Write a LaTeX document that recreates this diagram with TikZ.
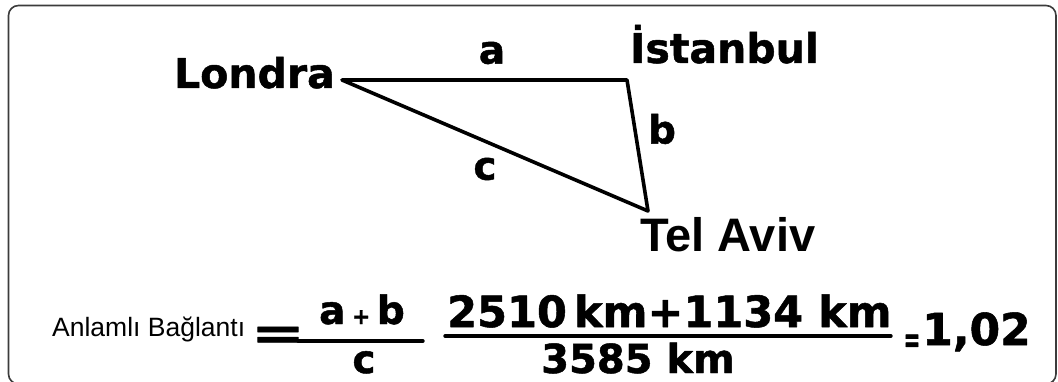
\documentclass[tikz,border=0pt]{standalone}
\usepackage{fontspec}
\setmainfont{DejaVu Sans}[BoldFeatures={FakeBold=1.2}]
\newfontfamily\arialfont{Liberation Sans}
\usetikzlibrary{positioning}
\newcommand{\Px}{1pt}
\newcommand{\Edge}{3.6pt}
\newcommand{\Bar}{3.4pt}
\definecolor{ink}{HTML}{000000}
\definecolor{rim}{HTML}{3C3C3C}

\begin{document}
\begin{tikzpicture}[x=\Px,y=-\Px, line join=round, line cap=round,
  txt/.style={inner sep=0pt, text=ink},
  city/.style={txt, anchor=base west, font=\fontsize{41}{41}\selectfont\bfseries},
  side/.style={txt, anchor=center, font=\fontsize{39}{39}\selectfont\bfseries},
  eqn/.style={txt, anchor=base, font=\fontsize{39}{39}\selectfont\bfseries}]
  \useasboundingbox (0,0) rectangle (1058,382);

  % ---- frame: only its top, left and corners fall on the page ------------
  \draw[rim,line width=1.6pt,rounded corners=10pt] (8.5,5.5) rectangle (1056,384);

  % ---- the three cities ---------------------------------------------------
  \coordinate (lon) at (342,80);
  \coordinate (ist) at (627,80);
  \coordinate (tel) at (648,211);
  \draw[ink,line width=\Edge] (lon) -- (ist) -- (tel) -- cycle;

  \node[city,anchor=base east] (londra) at (335,88) {Londra};
  \node[city] (istanbul) at (630,63) {İstanbul};
  \node[city,font=\fontsize{47}{47}\arialfont\bfseries] (telaviv) at (640,252) {Tel Aviv};

  \node[side] (a) at (492,53) {a};
  \node[side] (b) at (662,129) {b};
  \node[side] (c) at (485,169) {c};

  % ---- the ratio ----------------------------------------------------------
  \node[txt,anchor=base west,font=\fontsize{26.5}{27}\arialfont] (name) at (52,336) {Anlamlı Bağlantı};
  \node[txt,anchor=base,font=\fontsize{46}{46}\selectfont\bfseries] (eqbig) at (278,349) {\scalebox{1.4}[1]{=}};

  \node[eqn] (num1) at (362,324) {a\,{\fontsize{22}{22}\selectfont+}\,b};
  \node[eqn] (den1) at (364,373) {c};
  \coordinate (bar1w) at (298,341);
  \coordinate (bar1e) at (423,341);
  \draw[ink,line width=\Bar] (bar1w) -- (bar1e);

  \node[eqn,anchor=base west,font=\fontsize{43}{43}\selectfont\bfseries] (num2) at (447,327) {2510\,km+1134 km};
  \node[eqn,font=\fontsize{40}{40}\selectfont\bfseries] (den2) at (638,373) {3585 km};
  \coordinate (bar2w) at (445,336);
  \coordinate (bar2e) at (891,336);
  \draw[ink,line width=\Bar] (bar2w) -- (bar2e);

  \node[txt,anchor=base,font=\fontsize{36}{36}\selectfont\bfseries] (eqsmall) at (912,352) {\scalebox{0.55}[1]{=}};
  \node[eqn,anchor=base west,font=\fontsize{44}{44}\selectfont\bfseries] (result) at (922,345) {1,02};
\end{tikzpicture}
\end{document}
